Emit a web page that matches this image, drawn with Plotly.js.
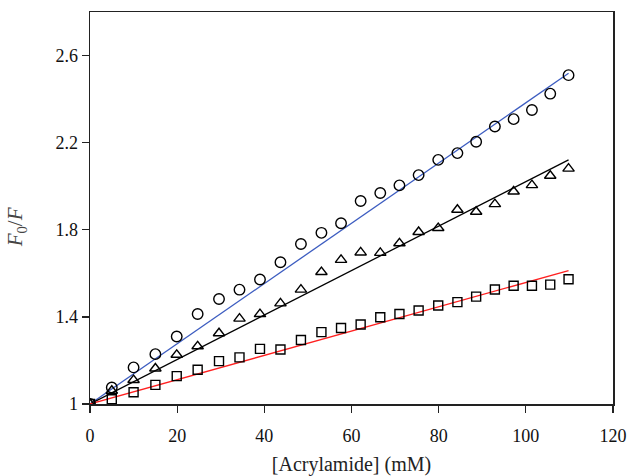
<!DOCTYPE html>
<html>
<head>
<meta charset="utf-8">
<script src="https://cdn.plot.ly/plotly-3.0.1.min.js"></script>
<style>html,body{margin:0;padding:0;background:#fff;}#chart{width:630px;height:476px;}</style>
</head>
<body>
<div id="chart"></div>
<script>
// [Acrylamide] (mM)
var acrylamide = [0, 5, 10, 15, 19.9, 24.7, 29.6, 34.3, 39, 43.7, 48.4, 53.1, 57.6, 62.1, 66.6, 71, 75.4, 79.9, 84.3, 88.6, 92.9, 97.2, 101.4, 105.6, 109.8];
// F0/F values
var circleSeries = [1.0, 1.076, 1.168, 1.229, 1.310, 1.413, 1.482, 1.525, 1.572, 1.651, 1.735, 1.786, 1.830, 1.932, 1.969, 2.004, 2.051, 2.121, 2.152, 2.204, 2.274, 2.308, 2.350, 2.425, 2.510];
var triangleSeries = [1.0, 1.061, 1.110, 1.163, 1.226, 1.265, 1.325, 1.392, 1.413, 1.462, 1.525, 1.606, 1.662, 1.696, 1.694, 1.738, 1.790, 1.808, 1.892, 1.883, 1.918, 1.976, 2.005, 2.048, 2.081];
var squareSeries = [1.0, 1.022, 1.054, 1.088, 1.128, 1.157, 1.197, 1.214, 1.253, 1.250, 1.294, 1.330, 1.349, 1.365, 1.398, 1.413, 1.429, 1.452, 1.468, 1.493, 1.526, 1.543, 1.543, 1.548, 1.573];
// Stern-Volmer slopes (Ksv, mM^-1) of fitted lines
var ksv = [0.01383, 0.01021, 0.00558];
var fitColors = ['#3c5cc0', '#000000', '#ff2020'];
var yTicks = [1, 1.4, 1.8, 2.2, 2.6];
var xTicks = [0, 20, 40, 60, 80, 100, 120];

var lineX = [acrylamide[0], acrylamide[acrylamide.length - 1]];
var traces = [];
ksv.forEach(function (k, i) {
  traces.push({
    x: lineX,
    y: lineX.map(function (v) { return 1 + k * v; }),
    mode: 'lines',
    line: {color: fitColors[i], width: 1.3},
    showlegend: false, hoverinfo: 'skip'
  });
});
var series = [circleSeries, triangleSeries, squareSeries];
var symbols = ['circle-open', 'triangle-up-open', 'square-open'];
var sizes = [10.5, 10, 9];
series.forEach(function (s, i) {
  traces.push({
    x: acrylamide, y: s, mode: 'markers',
    marker: {symbol: symbols[i], size: sizes[i], color: '#000', line: {color: '#000', width: 1.4}},
    showlegend: false
  });
});

var fontFam = '"Liberation Serif", "DejaVu Serif", serif';
var layout = {
  width: 630, height: 476,
  margin: {l: 90, r: 17, t: 12, b: 72},
  paper_bgcolor: '#fff', plot_bgcolor: '#fff',
  font: {family: fontFam, size: 18, color: '#111'},
  showlegend: false,
  xaxis: {
    range: [0, 120], tickmode: 'array', tickvals: xTicks,
    ticks: 'outside', ticklen: 7, tickwidth: 1.3, tickcolor: '#222',
    showline: true, linecolor: '#222', linewidth: 1.5, mirror: true,
    showgrid: false, zeroline: false, ticklabelstandoff: 8,
    tickfont: {family: fontFam, size: 18, color: '#111'},
    title: {text: '[Acrylamide] (mM)', font: {family: fontFam, size: 20, color: '#222'}, standoff: 14}
  },
  yaxis: {
    range: [1, 2.8], tickmode: 'array', tickvals: yTicks,
    ticktext: yTicks.map(String),
    ticks: 'outside', ticklen: 7, tickwidth: 1.3, tickcolor: '#222',
    showline: true, linecolor: '#222', linewidth: 1.5, mirror: true,
    showgrid: false, zeroline: false,
    tickfont: {family: fontFam, size: 18, color: '#111'}
  },
  annotations: [{
    xref: 'paper', yref: 'paper', x: -0.142, y: 0.45,
    xanchor: 'center', yanchor: 'middle', textangle: -90, showarrow: false,
    text: '<i>F</i><sub>0</sub>/<i>F</i>',
    font: {family: fontFam, size: 21, color: '#444'}
  }]
};
Plotly.newPlot('chart', traces, layout, {staticPlot: true, displayModeBar: false});
</script>
</body>
</html>
